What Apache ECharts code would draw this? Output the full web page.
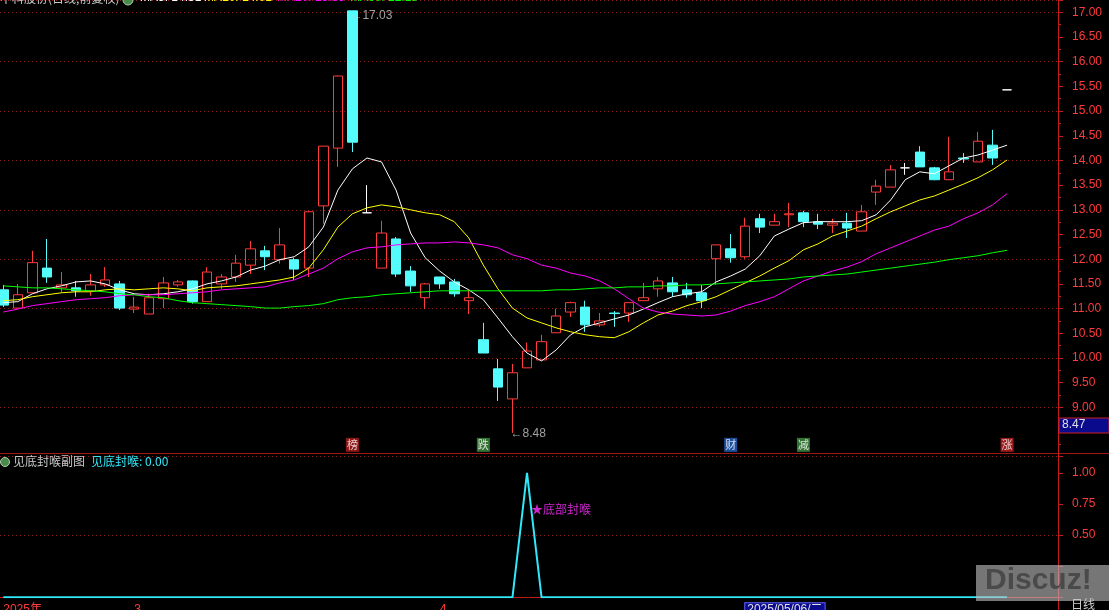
<!DOCTYPE html>
<html><head><meta charset="utf-8">
<script src="https://cdn.jsdelivr.net/npm/echarts@6/dist/echarts.min.js"></script>
<style>html,body{margin:0;padding:0;background:#000;overflow:hidden}#c{width:1109px;height:610px}</style>
</head><body><div id="c"></div>
<script>
const stockTitle = '中科股份(日线,前复权)';
const categories = [
'2025/02/18','2025/02/19','2025/02/20','2025/02/21','2025/02/24','2025/02/25','2025/02/26','2025/02/27','2025/02/28',
'2025/03/03','2025/03/04','2025/03/05','2025/03/06','2025/03/07','2025/03/10','2025/03/11','2025/03/12','2025/03/13','2025/03/14',
'2025/03/17','2025/03/18','2025/03/19','2025/03/20','2025/03/21','2025/03/24','2025/03/25','2025/03/26','2025/03/27','2025/03/28','2025/03/31',
'2025/04/01','2025/04/02','2025/04/03','2025/04/07','2025/04/08','2025/04/09','2025/04/10','2025/04/11','2025/04/14','2025/04/15',
'2025/04/16','2025/04/17','2025/04/18','2025/04/21','2025/04/22','2025/04/23','2025/04/24','2025/04/25','2025/04/28','2025/04/29','2025/04/30',
'2025/05/06','2025/05/07','2025/05/08','2025/05/09','2025/05/12','2025/05/13','2025/05/14','2025/05/15','2025/05/16',
'2025/05/19','2025/05/20','2025/05/21','2025/05/22','2025/05/23','2025/05/26','2025/05/27','2025/05/28','2025/05/29','2025/05/30',
'2025/06/03','2025/06/04','2025/06/05'];
const opens = [11.38,11.01,11.32,11.82,11.42,11.42,11.36,11.48,11.50,10.99,10.89,11.20,11.48,11.56,11.14,11.50,11.64,11.88,12.17,11.99,
11.99,11.82,13.08,14.25,17.03,12.94,11.82,12.41,11.76,11.22,11.64,11.54,11.16,10.37,9.78,9.17,9.80,9.96,10.51,10.93,
11.03,10.67,10.91,10.91,11.16,11.40,11.52,11.38,11.32,12.01,12.21,12.05,12.82,12.69,12.90,12.94,12.76,12.69,12.73,12.57,
13.36,13.46,13.85,14.17,13.85,13.61,14.05,13.97,14.31,15.43];
const closes = [11.07,11.28,11.93,11.64,11.48,11.36,11.48,11.58,11.01,11.03,11.22,11.52,11.54,11.14,11.74,11.64,11.92,12.21,12.05,12.29,
11.80,12.96,14.29,15.71,14.37,12.94,12.53,11.70,11.46,11.50,11.50,11.30,11.22,10.10,9.41,9.70,10.14,10.33,10.85,11.12,
10.67,10.75,10.90,11.12,11.22,11.56,11.34,11.28,11.16,12.29,12.03,12.67,12.65,12.76,12.92,12.76,12.71,12.73,12.63,12.96,
13.48,13.81,13.85,13.87,13.61,13.77,14.03,14.39,14.05,15.43];
const lows = [11.03,11.00,11.31,11.52,11.32,11.24,11.26,11.44,10.97,10.91,10.89,11.01,11.44,11.10,11.14,11.40,11.54,11.70,11.78,11.91,
11.58,11.64,12.72,13.87,14.17,12.94,11.82,11.64,11.34,10.99,11.40,11.24,10.89,10.10,9.13,8.48,9.80,9.96,10.51,10.83,
10.53,10.63,10.63,10.73,11.16,11.24,11.24,11.22,11.01,11.48,11.93,12.01,12.53,12.69,12.65,12.65,12.61,12.53,12.43,12.57,
13.10,13.46,13.71,13.87,13.60,13.61,13.95,13.97,13.91,15.43];
const highs = [11.48,11.50,12.17,12.41,11.74,11.56,11.70,11.84,11.56,11.24,11.30,11.64,11.58,11.57,11.84,11.70,12.09,12.37,12.27,12.63,
12.03,12.98,14.29,15.72,17.03,13.50,12.78,12.45,11.86,11.52,11.64,11.60,11.38,10.71,9.98,9.88,10.31,10.47,11.00,11.14,
11.16,10.91,10.95,11.12,11.52,11.64,11.64,11.52,11.48,12.29,12.51,12.84,12.92,12.92,13.14,12.98,12.92,12.82,12.94,13.10,
13.61,13.91,13.95,14.29,13.87,14.48,14.15,14.58,14.62,15.43];
const ma5 = [11.12,11.14,11.30,11.40,11.46,11.54,11.56,11.50,11.38,11.30,11.28,11.30,11.34,11.40,11.50,11.56,11.64,11.78,11.86,11.99,
12.05,12.25,12.65,13.40,13.83,14.05,13.97,13.40,12.53,12.03,11.76,11.54,11.38,11.18,10.81,10.43,10.10,9.94,10.16,10.47,
10.63,10.71,10.79,10.87,10.99,11.12,11.24,11.30,11.34,11.54,11.66,11.80,12.07,12.47,12.61,12.74,12.76,12.76,12.76,12.78,
12.90,13.20,13.61,13.77,13.73,13.89,14.05,14.11,14.21,14.31];
const ma10 = [11.16,11.18,11.24,11.28,11.32,11.34,11.34,11.38,11.40,11.38,11.40,11.42,11.40,11.36,11.42,11.44,11.46,11.50,11.54,11.58,
11.64,11.82,12.19,12.65,12.92,13.04,13.10,13.06,13.00,12.94,12.90,12.76,12.43,11.88,11.40,11.01,10.81,10.71,10.61,10.53,
10.47,10.43,10.41,10.53,10.71,10.87,10.95,11.06,11.14,11.24,11.38,11.52,11.66,11.82,11.97,12.19,12.31,12.47,12.57,12.67,
12.82,12.96,13.08,13.20,13.28,13.40,13.52,13.65,13.81,14.01];
const ma20 = [10.93,10.99,11.06,11.10,11.14,11.18,11.20,11.22,11.26,11.28,11.28,11.28,11.30,11.32,11.34,11.38,11.40,11.42,11.44,11.52,
11.58,11.70,11.82,12.01,12.15,12.23,12.25,12.29,12.31,12.33,12.33,12.35,12.33,12.29,12.23,12.09,12.01,11.88,11.82,11.72,
11.66,11.56,11.40,11.20,11.01,10.93,10.89,10.87,10.85,10.87,10.95,11.06,11.14,11.24,11.40,11.56,11.66,11.76,11.84,11.95,
12.11,12.23,12.35,12.47,12.59,12.67,12.82,12.94,13.10,13.33];
const ma60 = [11.46,11.44,11.42,11.42,11.40,11.38,11.36,11.34,11.30,11.28,11.24,11.22,11.16,11.12,11.10,11.08,11.06,11.04,11.01,11.01,
11.04,11.06,11.10,11.18,11.22,11.24,11.28,11.30,11.32,11.34,11.36,11.36,11.36,11.36,11.36,11.36,11.36,11.36,11.38,11.38,
11.40,11.42,11.42,11.44,11.44,11.46,11.46,11.48,11.48,11.50,11.52,11.54,11.56,11.58,11.60,11.64,11.66,11.68,11.70,11.74,
11.78,11.82,11.86,11.90,11.94,11.99,12.03,12.07,12.13,12.18];
const signal = [0,0,0,0,0,0,0,0,0,0,0,0,0,0,0,0,0,0,0,0,0,0,0,0,0,0,0,0,0,0,0,0,0,0,0,0,1,0,0,0,
0,0,0,0,0,0,0,0,0,0,0,0,0,0,0,0,0,0,0,0,0,0,0,0,0,0,0,0,0,0];
const signalText = '★底部封喉';
const signalLabelValue = 0.71;
const markerIdx = [24,33,50,55,69];
const markerText = ['榜','跌','财','减','涨'];
const markerLevel = 8.24;
const priceTicks = [9,17];
const subTicks = [0.5,1.0];
const cursorDateIdx = 51;
const cursorDateText = '2025/05/06/二';
const cursorPrice = '8.47';
const xTickIdx = [9,14,19,25,30,35,40,46,51,56,61,66];

const RED='#ff3b3b', CYAN='#54fcfc', AX='#c41a1a';
const markerColor = {'榜':'#b01c1c','跌':'#3f8f3f','财':'#2463c4','减':'#3f8f3f','涨':'#c42020'};
const nData = opens.length;

const candleData = opens.map((o,i)=>[o,closes[i],lows[i],highs[i]]);
let hiI=0, loI=0;
highs.forEach((h,i)=>{ if(h>highs[hiI]) hiI=i; });
lows.forEach((l,i)=>{ if(l<lows[loI]) loI=i; });

const chart = echarts.init(document.getElementById('c'), null, {renderer:'canvas'});
const font = '"Liberation Sans", "Noto Sans CJK SC", sans-serif';
const maLine = (name,data,color)=>({name,type:'line',data,xAxisIndex:0,yAxisIndex:0,showSymbol:false,symbol:'none',silent:true,z:5,
  lineStyle:{color,width:1},itemStyle:{color}});

chart.setOption({
  backgroundColor:'#000',
  animation:false,
  textStyle:{fontFamily:font},
  grid:[{left:-4,right:51,top:0,height:456.7,outerBoundsMode:'none',containLabel:false},
        {left:-4,right:51,top:453,height:144.3,outerBoundsMode:'none',containLabel:false}],
  xAxis:[
    {type:'category',gridIndex:0,data:categories,boundaryGap:true,show:false},
    {type:'category',gridIndex:1,data:categories,boundaryGap:true,offset:3,
      axisLine:{lineStyle:{color:AX,width:1}},
      axisTick:{alignWithLabel:true,length:6,interval:(i)=>xTickIdx.includes(i),lineStyle:{color:AX}},
      axisLabel:{interval:0,align:'left',margin:3,color:RED,fontSize:12,fontFamily:font,
        formatter:(v,i)=>{
          if(i===cursorDateIdx) return '{hl|'+cursorDateText+'}';
          if(i===0) return v.slice(0,4)+'年';
          if(i<nData && i>0 && v.slice(5,7)!==categories[i-1].slice(5,7)) return String(parseInt(v.slice(5,7),10));
          return '';
        },
        rich:{hl:{backgroundColor:'#0a0a8c',color:'#e0e0e0',fontSize:12,padding:[0,2,0,2],borderColor:'#6060ff',borderWidth:1}}},
      splitLine:{show:false}}
  ],
  yAxis:[
    {type:'value',gridIndex:0,position:'right',min:8,max:17.25,interval:0.5,
      axisLine:{show:true,lineStyle:{color:AX}},
      axisTick:{show:true,length:5,lineStyle:{color:AX}},
      minorTick:{show:true,splitNumber:2,length:3,lineStyle:{color:AX}},
      axisLabel:{color:RED,fontSize:12,margin:14,fontFamily:font,
        formatter:v=>(v<priceTicks[0]-1e-6||v>priceTicks[1]+1e-6)?'':v.toFixed(2)},
      splitLine:{show:false}},
    {type:'value',gridIndex:0,position:'right',min:8,max:17.25,interval:1,
      axisLine:{show:false},axisTick:{show:false},axisLabel:{show:false},
      splitLine:{show:true,lineStyle:{color:'#8c1c1c',type:[1,3],width:1}}},
    {type:'value',gridIndex:1,position:'right',min:0,max:1.16,interval:0.25,
      axisLine:{show:true,lineStyle:{color:AX}},
      axisTick:{show:true,length:5,lineStyle:{color:AX}},
      axisLabel:{color:RED,fontSize:12,margin:14,fontFamily:font,
        formatter:v=>(v<subTicks[0]-1e-6||v>subTicks[1]+1e-6)?'':v.toFixed(2)},
      splitLine:{show:false}}
  ],
  series:[
    {type:'candlestick',xAxisIndex:0,yAxisIndex:0,data:candleData,barWidth:10,z:3,
      itemStyle:{color:'rgba(0,0,0,0)',color0:CYAN,borderColor:RED,borderColor0:CYAN,borderColorDoji:'#ffffff',borderWidth:1}},
    maLine('MA5',ma5,'#ffffff'),
    maLine('MA10',ma10,'#ffff00'),
    maLine('MA20',ma20,'#ff00ff'),
    maLine('MA60',ma60,'#00ff00'),
    {type:'scatter',xAxisIndex:0,yAxisIndex:0,symbolSize:0,silent:true,z:6,
      data:[{value:[hiI,highs[hiI]],label:{offset:[-2,5]}},{value:[loI,lows[loI]],label:{offset:[-2,1]}}],
      label:{show:true,position:'right',distance:0,color:'#c8c8c8',fontSize:12,fontFamily:font,
        formatter:p=>'←'+p.value[1].toFixed(2)}},
    {type:'scatter',xAxisIndex:0,yAxisIndex:0,symbol:'rect',symbolSize:[13,14],silent:true,z:6,
      data:markerIdx.map((ix,k)=>({value:[ix,markerLevel],name:markerText[k],itemStyle:{color:markerColor[markerText[k]]}})),
      label:{show:true,position:'inside',color:'#ffffff',fontSize:11,fontFamily:'"Noto Sans CJK SC"',formatter:p=>p.name}},
    {type:'line',xAxisIndex:1,yAxisIndex:2,data:signal,showSymbol:false,symbol:'none',silent:true,z:5,
      lineStyle:{color:'#30e8f8',width:2},
      markLine:{silent:true,symbol:'none',label:{show:false},lineStyle:{color:'#8c1c1c',type:[1,3],width:1},data:[{yAxis:0.5}]}},
    {type:'scatter',xAxisIndex:1,yAxisIndex:2,symbolSize:0,silent:true,z:6,
      data:signal.map((v,i)=>v===1?[i,signalLabelValue]:null).filter(Boolean),
      label:{show:true,position:'right',distance:4,color:'#ff30ff',fontSize:12,fontFamily:'"Noto Sans CJK SC"',formatter:()=>signalText}}
  ],
  graphic:[
    {type:'line',shape:{x1:0,y1:453.5,x2:1109,y2:453.5},style:{stroke:'#a01818',lineWidth:1},z:1},
    {type:'line',shape:{x1:1058.5,y1:0,x2:1058.5,y2:610},style:{stroke:AX,lineWidth:1},z:1},
    {type:'text',left:0,top:-8,style:{text:stockTitle,fill:'#c8c8c8',font:'12px "Noto Sans CJK SC"'},z:10},
    {type:'circle',shape:{cx:128,cy:0,r:5},style:{fill:'#4a8a4a',stroke:'#b0d0b0',lineWidth:1},z:10},
    {type:'text',left:140,top:-8,style:{text:'MA5: '+ma5[ma5.length-1].toFixed(2),fill:'#ffffff',font:'12px "Liberation Sans"'},z:10},
    {type:'text',left:204,top:-8,style:{text:'MA10: '+ma10[ma10.length-1].toFixed(2),fill:'#ffff00',font:'12px "Liberation Sans"'},z:10},
    {type:'text',left:277,top:-8,style:{text:'MA20: '+ma20[ma20.length-1].toFixed(2),fill:'#ff00ff',font:'12px "Liberation Sans"'},z:10},
    {type:'text',left:350,top:-8,style:{text:'MA60: '+ma60[ma60.length-1].toFixed(2),fill:'#00ff00',font:'12px "Liberation Sans"'},z:10},
    {type:'circle',shape:{cx:5,cy:462,r:4.5},style:{fill:'#4a8a4a',stroke:'#b0d0b0',lineWidth:1},z:10},
    {type:'text',left:13,top:455,style:{text:'见底封喉副图',fill:'#c8c8c8',font:'12px "Noto Sans CJK SC"'},z:10},
    {type:'text',left:91,top:455,style:{text:'见底封喉: '+signal[signal.length-1].toFixed(2),fill:'#30e8f8',font:'12px "Noto Sans CJK SC"'},z:10},
    {type:'rect',shape:{x:1059,y:418,width:50,height:15},style:{fill:'#0a0a8c',stroke:'#d02020',lineWidth:1},z:10},
    {type:'text',left:1062,top:419,style:{text:cursorPrice,fill:'#e0e0e0',font:'12px "Liberation Sans"'},z:11},
    {type:'text',left:1071,top:598,style:{text:'日线',fill:'#d0d0d0',font:'12px "Noto Sans CJK SC"'},z:10},
    {type:'rect',shape:{x:976,y:565,width:133,height:36},style:{fill:'rgba(190,190,190,0.62)'},z:20},
    {type:'text',left:985,top:566,style:{text:'Discuz!',fill:'#4a4a4a',font:'bold 30px "Liberation Sans"'},z:21}
  ]
});
</script></body></html>
